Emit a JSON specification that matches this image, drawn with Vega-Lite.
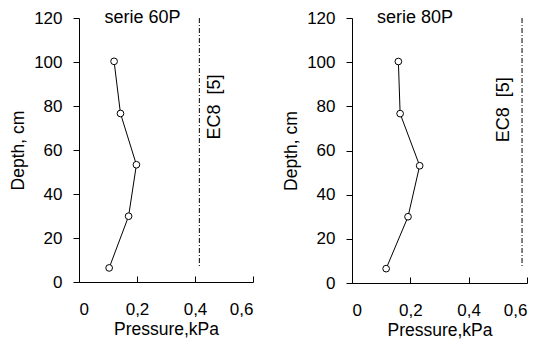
{
  "$schema": "https://vega.github.io/schema/vega-lite/v6.json",
  "background": "white",
  "padding": {"left": 9, "top": 9, "right": 2, "bottom": 2},
  "spacing": 99,
  "bounds": "flush",
  "config": {
    "font": "Liberation Sans",
    "view": {"stroke": null},
    "axis": {
      "grid": false,
      "domainColor": "black",
      "tickColor": "black",
      "labelColor": "black",
      "titleColor": "black",
      "labelFont": "Liberation Sans",
      "titleFont": "Liberation Sans",
      "labelFontSize": 17,
      "titleFontSize": 17.5,
      "titleFontWeight": "normal",
      "domainWidth": 1,
      "tickWidth": 1
    },
    "axisX": {"tickSize": -6, "labelPadding": 25, "titlePadding": 3},
    "axisY": {"tickSize": 6, "labelPadding": 11, "titlePadding": 6}
  },
  "datasets": {
    "pts": [
      {"serie": "60P", "pressure": 0.104, "depth": 6.4},
      {"serie": "60P", "pressure": 0.171, "depth": 29.9},
      {"serie": "60P", "pressure": 0.198, "depth": 53.3},
      {"serie": "60P", "pressure": 0.143, "depth": 76.6},
      {"serie": "60P", "pressure": 0.121, "depth": 100.3},
      {"serie": "80P", "pressure": 0.117, "depth": 6.5},
      {"serie": "80P", "pressure": 0.192, "depth": 30.0},
      {"serie": "80P", "pressure": 0.232, "depth": 53.1},
      {"serie": "80P", "pressure": 0.165, "depth": 76.7},
      {"serie": "80P", "pressure": 0.159, "depth": 100.3}
    ],
    "ec8": [
      {"serie": "60P", "x": 0.415, "top": 120, "bottom": 6.8, "label": "EC8\u00a0\u00a0[5]", "lx": 0.469, "ly": 79.5, "title": "serie 60P", "tx": 0.219},
      {"serie": "80P", "x": 0.583, "top": 120, "bottom": 7.3, "label": "EC8\u00a0\u00a0[5]", "lx": 0.521, "ly": 78.5, "title": "serie 80P", "tx": 0.216}
    ]
  },
  "hconcat": [
    {
      "width": 174,
      "height": 264,
      "layer": [
        {
          "data": {"name": "ec8"},
          "transform": [{"filter": "datum.serie == '60P'"}],
          "mark": {"type": "rule", "color": "black", "strokeWidth": 1, "strokeDash": [5, 2, 1, 2]},
          "encoding": {
            "x": {"field": "x", "type": "quantitative", "scale": {"domain": [0, 0.6], "nice": false}},
            "y": {"field": "top", "type": "quantitative", "scale": {"domain": [0, 120], "nice": false}},
            "y2": {"field": "bottom"}
          }
        },
        {
          "data": {"name": "ec8"},
          "transform": [{"filter": "datum.serie == '60P'"}],
          "mark": {"type": "text", "angle": 270, "fontSize": 18, "color": "black", "align": "center", "baseline": "middle"},
          "encoding": {
            "x": {"field": "lx", "type": "quantitative"},
            "y": {"field": "ly", "type": "quantitative"},
            "text": {"field": "label"}
          }
        },
        {
          "data": {"name": "ec8"},
          "transform": [{"filter": "datum.serie == '60P'"}],
          "mark": {"type": "text", "fontSize": 18, "color": "black", "align": "center", "baseline": "middle"},
          "encoding": {
            "x": {"field": "tx", "type": "quantitative"},
            "y": {"field": "top", "type": "quantitative"},
            "text": {"field": "title"}
          }
        },
        {
          "data": {"name": "pts"},
          "transform": [{"filter": "datum.serie == '60P'"}],
          "mark": {"type": "line", "color": "black", "strokeWidth": 1},
          "encoding": {
            "x": {"field": "pressure", "type": "quantitative", "scale": {"domain": [0, 0.6], "nice": false},
              "axis": {"values": [0, 0.2, 0.4, 0.6], "title": "Pressure,kPa", "labelExpr": "datum.value == 0 ? '0' : replace(format(datum.value, '.1f'), '.', ',')"}},
            "y": {"field": "depth", "type": "quantitative", "scale": {"domain": [0, 120], "nice": false},
              "axis": {"values": [0, 20, 40, 60, 80, 100, 120], "title": "Depth, cm"}},
            "order": {"field": "depth"}
          }
        },
        {
          "data": {"name": "pts"},
          "transform": [{"filter": "datum.serie == '60P'"}],
          "mark": {"type": "point", "shape": "circle", "filled": true, "fill": "white", "stroke": "black", "strokeWidth": 1, "size": 45, "opacity": 1},
          "encoding": {
            "x": {"field": "pressure", "type": "quantitative"},
            "y": {"field": "depth", "type": "quantitative"}
          }
        }
      ]
    },
    {
      "width": 175,
      "height": 265,
      "layer": [
        {
          "data": {"name": "ec8"},
          "transform": [{"filter": "datum.serie == '80P'"}],
          "mark": {"type": "rule", "color": "black", "strokeWidth": 1, "strokeDash": [5, 2, 1, 2]},
          "encoding": {
            "x": {"field": "x", "type": "quantitative", "scale": {"domain": [0, 0.6], "nice": false}},
            "y": {"field": "top", "type": "quantitative", "scale": {"domain": [0, 120], "nice": false}},
            "y2": {"field": "bottom"}
          }
        },
        {
          "data": {"name": "ec8"},
          "transform": [{"filter": "datum.serie == '80P'"}],
          "mark": {"type": "text", "angle": 270, "fontSize": 18, "color": "black", "align": "center", "baseline": "middle"},
          "encoding": {
            "x": {"field": "lx", "type": "quantitative"},
            "y": {"field": "ly", "type": "quantitative"},
            "text": {"field": "label"}
          }
        },
        {
          "data": {"name": "ec8"},
          "transform": [{"filter": "datum.serie == '80P'"}],
          "mark": {"type": "text", "fontSize": 18, "color": "black", "align": "center", "baseline": "middle"},
          "encoding": {
            "x": {"field": "tx", "type": "quantitative"},
            "y": {"field": "top", "type": "quantitative"},
            "text": {"field": "title"}
          }
        },
        {
          "data": {"name": "pts"},
          "transform": [{"filter": "datum.serie == '80P'"}],
          "mark": {"type": "line", "color": "black", "strokeWidth": 1},
          "encoding": {
            "x": {"field": "pressure", "type": "quantitative", "scale": {"domain": [0, 0.6], "nice": false},
              "axis": {"values": [0, 0.2, 0.4, 0.6], "title": "Pressure,kPa", "labelExpr": "datum.value == 0 ? '0' : replace(format(datum.value, '.1f'), '.', ',')"}},
            "y": {"field": "depth", "type": "quantitative", "scale": {"domain": [0, 120], "nice": false},
              "axis": {"values": [0, 20, 40, 60, 80, 100, 120], "title": "Depth, cm"}},
            "order": {"field": "depth"}
          }
        },
        {
          "data": {"name": "pts"},
          "transform": [{"filter": "datum.serie == '80P'"}],
          "mark": {"type": "point", "shape": "circle", "filled": true, "fill": "white", "stroke": "black", "strokeWidth": 1, "size": 45, "opacity": 1},
          "encoding": {
            "x": {"field": "pressure", "type": "quantitative"},
            "y": {"field": "depth", "type": "quantitative"}
          }
        }
      ]
    }
  ]
}
